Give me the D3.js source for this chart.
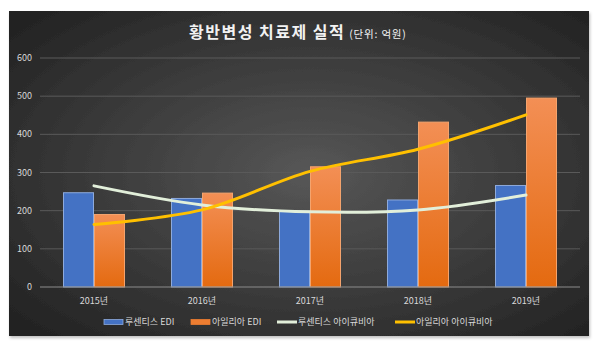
<!DOCTYPE html>
<html>
<head>
<meta charset="utf-8">
<script src="https://d3js.org/d3.v7.min.js"></script>
<style>
  body { margin: 0; background: #fff; }
  svg { display: block; font-family: "Noto Sans CJK KR", "Noto Sans", sans-serif; }
</style>
</head>
<body>
<div id="chart"></div>
<script>
// data (unit: 억원)
const years = ["2015년", "2016년", "2017년", "2018년", "2019년"];
const barSeries = ["루센티스 EDI", "아일리아 EDI"];
const lucentisEdi = [247, 232, 199, 228, 266];
const eyleaEdi = [190, 246, 315, 432, 495];
const lucentisIqvia = [265, 215, 197, 202, 241];
const eyleaIqvia = [164, 202, 303, 361, 451];
const yTicks = [0, 100, 200, 300, 400, 500, 600];

const width = 600, height = 352;
const panel = { x: 9, y: 11, w: 580, h: 325 };
const plot = { left: 40, right: 580, top: 58, bottom: 287 };

const svg = d3.select("#chart").append("svg")
  .attr("width", width)
  .attr("height", height);

const defs = svg.append("defs");

// radial background, lighter in the middle
const bg = defs.append("radialGradient")
  .attr("id", "bg")
  .attr("cx", "52%").attr("cy", "50%").attr("r", "68%");
bg.append("stop").attr("offset", "0%").attr("stop-color", "#575757");
bg.append("stop").attr("offset", "100%").attr("stop-color", "#232323");

const orangeGrad = defs.append("linearGradient")
  .attr("id", "orange")
  .attr("x1", 0).attr("y1", 0).attr("x2", 0).attr("y2", 1);
orangeGrad.append("stop").attr("offset", "0%").attr("stop-color", "#f38f55");
orangeGrad.append("stop").attr("offset", "100%").attr("stop-color", "#e46a10");

const shadow = defs.append("filter").attr("id", "shadow")
  .attr("x", "-5%").attr("y", "-5%").attr("width", "110%").attr("height", "115%");
shadow.append("feDropShadow")
  .attr("dx", 1).attr("dy", 2).attr("stdDeviation", 1.5)
  .attr("flood-color", "#000").attr("flood-opacity", 0.25);

svg.append("rect")
  .attr("x", panel.x).attr("y", panel.y)
  .attr("width", panel.w).attr("height", panel.h)
  .attr("fill", "url(#bg)")
  .attr("filter", "url(#shadow)");

// scales
const x = d3.scaleBand()
  .domain(years)
  .range([plot.left, plot.right])
  .paddingInner(0.426)
  .paddingOuter(0.213);

const x1 = d3.scaleBand()
  .domain(barSeries)
  .range([0, x.bandwidth()]);

const y = d3.scaleLinear()
  .domain([0, 600])
  .range([plot.bottom, plot.top]);

// gridlines
svg.append("g")
  .selectAll("line")
  .data(yTicks.slice(1))
  .join("line")
  .attr("x1", plot.left).attr("x2", plot.right)
  .attr("y1", d => y(d)).attr("y2", d => y(d))
  .attr("stroke", "#5a5a5a")
  .attr("stroke-width", 1);

// y tick labels
svg.append("g")
  .selectAll("text")
  .data(yTicks)
  .join("text")
  .attr("x", 32)
  .attr("y", d => y(d))
  .attr("dy", "0.35em")
  .attr("text-anchor", "end")
  .attr("fill", "#d9d9d9")
  .style("font-size", "9px")
  .text(d => d);

// bars
const barData = years.map((yr, i) => ({
  year: yr,
  values: [
    { key: barSeries[0], value: lucentisEdi[i] },
    { key: barSeries[1], value: eyleaEdi[i] }
  ]
}));

svg.append("g")
  .selectAll("g")
  .data(barData)
  .join("g")
  .attr("transform", d => `translate(${x(d.year)},0)`)
  .selectAll("rect")
  .data(d => d.values)
  .join("rect")
  .attr("x", d => x1(d.key) + 0.5)
  .attr("y", d => y(d.value))
  .attr("width", x1.bandwidth() - 1)
  .attr("height", d => y(0) - y(d.value))
  .attr("fill", d => d.key === barSeries[0] ? "#4472c4" : "url(#orange)")
  .attr("stroke", d => d.key === barSeries[0] ? "#8eaadb" : "#f4a46e")
  .attr("stroke-width", 1);

// zero axis line
svg.append("line")
  .attr("x1", plot.left).attr("x2", plot.right)
  .attr("y1", y(0)).attr("y2", y(0))
  .attr("stroke", "#8c8c8c")
  .attr("stroke-width", 1);

// category labels
svg.append("g")
  .selectAll("text")
  .data(years)
  .join("text")
  .attr("x", d => x(d) + x.bandwidth() / 2)
  .attr("y", 301)
  .attr("dy", "0.35em")
  .attr("text-anchor", "middle")
  .attr("fill", "#d9d9d9")
  .style("font-size", "9px")
  .text(d => d);

// smoothed lines
const line = d3.line()
  .x((d, i) => x(years[i]) + x.bandwidth() / 2)
  .y(d => y(d))
  .curve(d3.curveCatmullRom.alpha(0.5));

svg.append("path")
  .datum(lucentisIqvia)
  .attr("d", line)
  .attr("fill", "none")
  .attr("stroke", "#e2efda")
  .attr("stroke-width", 3)
  .attr("stroke-linecap", "round");

svg.append("path")
  .datum(eyleaIqvia)
  .attr("d", line)
  .attr("fill", "none")
  .attr("stroke", "#ffc000")
  .attr("stroke-width", 3)
  .attr("stroke-linecap", "round");

// title
const title = svg.append("text")
  .attr("x", 189)
  .attr("y", 32)
  .attr("dy", "0.35em")
  .attr("fill", "#f2f2f2");
title.append("tspan")
  .style("font-size", "16px")
  .style("font-weight", "bold")
  .style("letter-spacing", "1.5px")
  .text("황반변성 치료제 실적");
title.append("tspan")
  .attr("dx", 4)
  .style("font-size", "10.5px")
  .style("letter-spacing", "0.8px")
  .text("(단위: 억원)");

// legend
const legendItems = [
  { label: "루센티스 EDI", type: "bar", color: "#4472c4", stroke: "#8eaadb", x: 104 },
  { label: "아일리아 EDI", type: "bar", color: "#ed7d31", stroke: "#ed7d31", x: 191 },
  { label: "루센티스 아이큐비아", type: "line", color: "#e2efda", x: 277 },
  { label: "아일리아 아이큐비아", type: "line", color: "#ffc000", x: 395 }
];
const legendY = 322;

const lg = svg.append("g")
  .selectAll("g")
  .data(legendItems)
  .join("g")
  .attr("transform", d => `translate(${d.x},${legendY})`);

lg.filter(d => d.type === "bar")
  .append("rect")
  .attr("x", 0).attr("y", -2.5)
  .attr("width", 19).attr("height", 5)
  .attr("fill", d => d.color)
  .attr("stroke", d => d.stroke)
  .attr("stroke-width", 0.8);

lg.filter(d => d.type === "line")
  .append("line")
  .attr("x1", 0).attr("x2", 20)
  .attr("y1", 0).attr("y2", 0)
  .attr("stroke", d => d.color)
  .attr("stroke-width", 3);

lg.append("text")
  .attr("x", 21)
  .attr("dy", "0.35em")
  .attr("fill", "#d9d9d9")
  .style("font-size", "9px")
  .text(d => d.label);
</script>
</body>
</html>
